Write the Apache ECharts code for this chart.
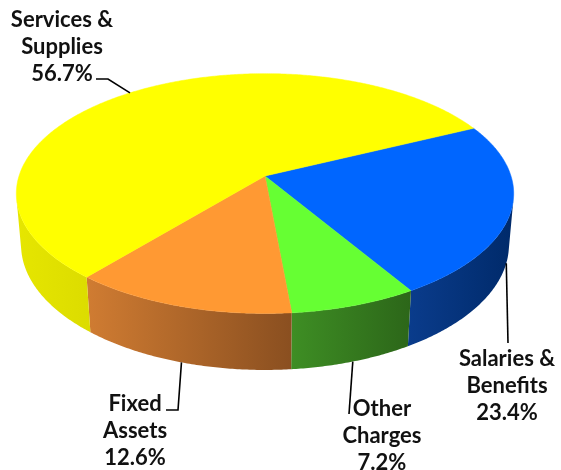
<!DOCTYPE html>
<html>
<head>
<meta charset="utf-8">
<script src="https://cdn.jsdelivr.net/npm/echarts@6/dist/echarts.min.js"></script>
<style>
html, body { margin: 0; padding: 0; background: #fff; }
#main { width: 561px; height: 470px; }
</style>
</head>
<body>
<div id="main"></div>
<script>
// ==============================
// data
// ==============================

var categories = ['Salaries & Benefits', 'Other Charges', 'Fixed Assets', 'Services & Supplies'];

var shares = [23.4, 7.2, 12.6, 56.7];

// ==============================
// look
// ==============================

var topColors = ['#0066ff', '#66ff33', '#ff9933', '#ffff00'];

var sideColors = [
    ['#0a3c8c', '#002a6a'],
    ['#3e8e24', '#2c6619'],
    ['#d07c32', '#8a4f20'],
    ['#e6e600', '#dcdc00']
];

// leader line bends and label spot, per slice
var labelLayout = [
    { bend: [[508, 343]], text: [507, 345] },
    { bend: [[349, 414]], text: [382, 395] },
    { bend: [[178, 410], [166, 410]], text: [135, 390] },
    { bend: [[108, 79], [96, 79]], text: [62, 6] }
];

// tilted pie, seen in perspective
var CX = 265, CY = 176, K = 246;
var SIN_A = 0.477, COS_A = 0.879;
var DIST = 6, THICK = 0.24;
var START = -25.6;

var total = shares.reduce(function (s, v) { return s + v; }, 0);
var cum = [];
shares.reduce(function (s, v, i) { cum[i] = s; return s + v; }, 0);

// side is seen only where sin(phi) > 1 / (DIST * cos a)
var edge = Math.asin(1 / (DIST * COS_A)) * 180 / Math.PI;
var SIDE_MIN = edge, SIDE_MAX = 180 - edge;

function project(deg, h, r) {
    var p = deg * Math.PI / 180;
    var x = r * Math.cos(p), z = r * Math.sin(p);
    var yc = z * SIN_A + h * THICK * COS_A;
    var zc = z * COS_A - h * THICK * SIN_A;
    var per = 1 / (1 - zc / DIST);
    return [CX + K * x * per, CY + K * yc * per];
}

function arc(a0, a1, h) {
    var pts = [];
    var n = Math.max(2, Math.ceil(Math.abs(a1 - a0) / 0.5));
    for (var k = 0; k <= n; k++) {
        pts.push(project(a0 + (a1 - a0) * k / n, h, 1));
    }
    return pts;
}

function renderItem(params, api) {

    var i = params.dataIndex;
    var a0 = START + cum[i] * 360 / total;
    var a1 = a0 + api.value(0) * 360 / total;
    var mid = (a0 + a1) / 2;

    var children = [];

    // top face
    var top = [project(0, 0, 0)].concat(arc(a0, a1, 0));
    children.push({
        type: 'polygon',
        z2: 10,
        shape: { points: top },
        style: { fill: topColors[i], stroke: topColors[i], lineWidth: 0.5 }
    });

    // outer side
    var s0 = Math.max(a0, SIDE_MIN), s1 = Math.min(a1, SIDE_MAX);
    if (s1 > s0) {
        var side = arc(s0, s1, 0).concat(arc(s0, s1, 1).reverse());
        children.push({
            type: 'polygon',
            z2: 2,
            shape: { points: side },
            style: {
                fill: {
                    type: 'linear', x: 0, y: 0, x2: 1, y2: 0,
                    colorStops: [
                        { offset: 0, color: sideColors[i][0] },
                        { offset: 1, color: sideColors[i][1] }
                    ]
                }
            }
        });
    }

    // leader line from the slice middle
    var front = Math.sin(mid * Math.PI / 180) > 0;
    var anchor = project(mid, front ? 1 : 0, 1);
    var lay = labelLayout[i];
    children.push({
        type: 'polyline',
        z2: 20,
        shape: { points: [anchor].concat(lay.bend) },
        style: { stroke: '#000', lineWidth: 1.6, fill: null }
    });

    var name = categories[i];
    var cut = name.lastIndexOf(' ');
    var label = name.slice(0, cut) + '\n' + name.slice(cut + 1) + '\n' + shares[i].toFixed(1) + '%';

    children.push({
        type: 'text',
        z2: 20,
        style: {
            x: lay.text[0],
            y: lay.text[1],
            text: label,
            align: 'center',
            verticalAlign: 'top',
            fontFamily: 'Lato, "Open Sans", sans-serif',
            fontWeight: 'bold',
            fontSize: 22,
            lineHeight: 27,
            fill: '#111'
        }
    });

    return { type: 'group', children: children };
}

var myChart = echarts.init(document.getElementById('main'));

myChart.setOption({
    backgroundColor: '#ffffff',
    animation: false,
    series: [{
        type: 'custom',
        coordinateSystem: 'none',
        silent: true,
        renderItem: renderItem,
        data: shares.map(function (v) { return [v]; })
    }]
});
</script>
</body>
</html>
